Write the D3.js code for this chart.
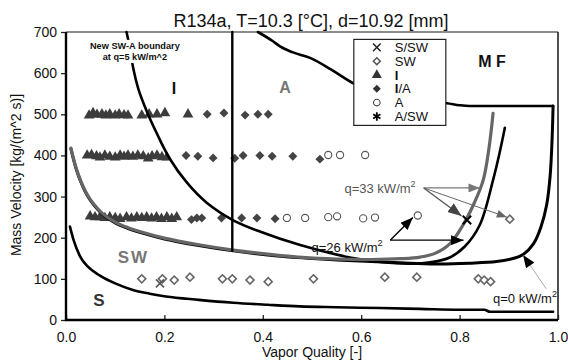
<!DOCTYPE html>
<html><head><meta charset="utf-8">
<script src="https://cdn.jsdelivr.net/npm/d3@7"></script>
<style>
body{margin:0;background:#fff}
svg{display:block}
text{font-family:"Liberation Sans",Arial,Helvetica,sans-serif}
</style>
</head><body>
<svg id="c" width="568" height="362"></svg>
<script>
// ---------- data ----------
const xTicks = [0, 0.2, 0.4, 0.6, 0.8, 1.0];
const yTicks = [0, 100, 200, 300, 400, 500, 600, 700];

// transition curves [vapor quality, mass velocity]
const sCurve = [[0.008,227],[0.015,196],[0.028,156],[0.045,129],[0.069,108],[0.1,89],[0.136,73],[0.17,64],[0.203,57],[0.27,49],[0.34,42],[0.41,37],[0.475,33],[0.55,31],[0.64,29],[0.72,27],[0.8,25],[0.85,25],[0.862,20],[0.99,20]];
const swQ0 = [[0.01,416],[0.02,370],[0.03,336],[0.04,310],[0.05,290],[0.075,256],[0.1,236],[0.125,223],[0.15,213],[0.2,197],[0.27,181],[0.34,168],[0.41,158],[0.48,151],[0.55,146],[0.62,142],[0.7,138],[0.76,136],[0.82,138],[0.875,142],[0.91,150],[0.93,160],[0.95,185],[0.965,225],[0.977,280],[0.984,350],[0.988,440],[0.99,520]];
const swQ33 = [[0.01,418],[0.02,372],[0.03,338],[0.04,312],[0.05,292],[0.075,258],[0.1,238],[0.125,225],[0.15,215],[0.2,199],[0.27,183],[0.34,170],[0.41,160],[0.48,152],[0.55,148],[0.62,147],[0.68,149],[0.72,153],[0.75,162],[0.78,185],[0.807,231],[0.83,285],[0.848,340],[0.86,420],[0.868,502]];
const swaQ5 = [[0.123,700],[0.13,660],[0.136,616],[0.147,562],[0.165,505],[0.184,455],[0.211,392],[0.245,335],[0.286,285],[0.339,243],[0.394,215],[0.476,182],[0.577,152],[0.64,141],[0.7,137],[0.74,140],[0.78,152],[0.81,178],[0.841,231],[0.868,340],[0.882,410],[0.892,467]];
const mfCurve = [[0.39,700],[0.42,678],[0.435,665],[0.46,651],[0.496,637],[0.54,608],[0.583,576],[0.62,558],[0.66,545],[0.7,536],[0.74,530],[0.774,527],[0.8,522],[0.821,520],[0.99,520]];
const iaLine = [[0.338,700],[0.338,168]];

// observed flow patterns
const ptsI = [[0.047,497],[0.055,503],[0.063,499],[0.073,500],[0.081,497],[0.089,500],[0.100,497],[0.108,500],[0.118,498],[0.126,497],[0.154,497],[0.169,500],[0.185,500],[0.201,503],[0.248,500],
  [0.043,400],[0.052,401],[0.062,398],[0.069,395],[0.079,400],[0.089,397],[0.1,395],[0.11,400],[0.118,397],[0.126,400],[0.136,397],[0.146,400],[0.157,398],[0.167,393],[0.175,398],[0.185,400],[0.195,396],[0.205,395],
  [0.049,252],[0.059,250],[0.069,250],[0.079,248],[0.089,250],[0.1,248],[0.11,246],[0.123,250],[0.133,247],[0.144,250],[0.154,248],[0.164,250],[0.174,247],[0.184,250],[0.194,246],[0.205,250],[0.215,246],[0.225,250]];
const ptsIA = [[0.287,500],[0.321,503],[0.364,498],[0.39,500],[0.411,500],
  [0.244,400],[0.268,398],[0.299,394],[0.343,393],[0.36,400],[0.394,400],[0.419,398],[0.461,398],[0.516,391],
  [0.255,244],[0.266,248],[0.276,248],[0.316,248],[0.357,248],[0.388,248],[0.425,246]];
const ptsA = [[0.533,401],[0.557,401],[0.608,401],[0.449,248],[0.486,248],[0.533,250],[0.551,252],[0.604,247],[0.628,249],[0.715,254]];
const ptsSW = [[0.154,100],[0.196,100],[0.22,97],[0.252,104],[0.318,100],[0.338,100],[0.374,97],[0.411,93],[0.503,100],[0.648,104],[0.713,104],[0.838,100],[0.85,97],[0.863,93],[0.902,245]];
const ptsSSW = [[0.191,89]];
const ptsASW = [[0.815,243]];

const legendLabels = ["S/SW","SW","I","I/A","A","A/SW"];

// ---------- layout ----------
const svg = d3.select("#c");
const x = d3.scaleLinear([0,1],[66,558]);
const y = d3.scaleLinear([0,700],[320,32]);
const FONT = '"Liberation Sans",Arial,Helvetica,sans-serif';

// title
svg.append("text").attr("x",311).attr("y",27).attr("text-anchor","middle")
  .attr("font-size",18).attr("fill","#111").text("R134a, T=10.3 [°C], d=10.92 [mm]");

// axes
const gy = svg.append("g").attr("transform","translate(66,0)")
  .call(d3.axisLeft(y).tickValues(yTicks).tickFormat(d3.format("d")).tickSize(5).tickPadding(4));
const gx = svg.append("g").attr("transform","translate(0,320)")
  .call(d3.axisBottom(x).tickValues(xTicks).tickFormat(d3.format(".1f")).tickSizeInner(-5).tickSizeOuter(0).tickPadding(12));
[gx,gy].forEach(g=>{
  g.select(".domain").remove();
  g.selectAll(".tick line").attr("stroke","#222").attr("stroke-width",1.3);
  g.selectAll(".tick text").attr("font-size",14).attr("font-family",FONT).attr("fill","#111");
});

// frame
svg.append("line").attr("x1",x(0)).attr("x2",x(1)).attr("y1",y(700)).attr("y2",y(700)).attr("stroke","#666").attr("stroke-width",1.6);
svg.append("line").attr("x1",x(1)).attr("x2",x(1)).attr("y1",y(700)).attr("y2",y(0)).attr("stroke","#222").attr("stroke-width",1.6);
svg.append("line").attr("x1",x(0)).attr("x2",x(0)).attr("y1",y(700)).attr("y2",y(0)+1).attr("stroke","#000").attr("stroke-width",2.4);
svg.append("line").attr("x1",x(0)-1).attr("x2",x(1)).attr("y1",y(0)).attr("y2",y(0)).attr("stroke","#000").attr("stroke-width",2.4);

// axis titles
svg.append("text").attr("transform","translate(21,175) rotate(-90)").attr("text-anchor","middle")
  .attr("font-size",14).attr("fill","#111").text("Mass Velocity [kg/(m^2 s)]");
svg.append("text").attr("x",312).attr("y",357).attr("text-anchor","middle")
  .attr("font-size",14).attr("fill","#111").text("Vapor Quality [-]");

// ---------- markers ----------
const plot = svg.append("g");
plot.selectAll(".tri").data(ptsI).join("path")
  .attr("d", d3.symbol(d3.symbolTriangle, 50))
  .attr("transform", d=>`translate(${x(d[0])},${y(d[1])})`).attr("fill","#3c3c3c");
plot.selectAll(".dia").data(ptsIA).join("path")
  .attr("d", d3.symbol(d3.symbolSquare, 40)).attr("transform", d=>`translate(${x(d[0])},${y(d[1])}) rotate(45)`).attr("fill","#444");
plot.selectAll(".circ").data(ptsA).join("circle")
  .attr("cx",d=>x(d[0])).attr("cy",d=>y(d[1])).attr("r",3.6).attr("fill","#fff").attr("stroke","#555").attr("stroke-width",1.1);
plot.selectAll(".odia").data(ptsSW).join("path")
  .attr("d", d3.symbol(d3.symbolSquare, 32)).attr("transform", d=>`translate(${x(d[0])},${y(d[1])}) rotate(45)`)
  .attr("fill","#fff").attr("stroke","#666").attr("stroke-width",1.6);

// ---------- curves ----------
const line = d3.line().x(d=>x(d[0])).y(d=>y(d[1])).curve(d3.curveCatmullRom.alpha(0.5));
const lineM = d3.line().x(d=>x(d[0])).y(d=>y(d[1])).curve(d3.curveMonotoneX);
const cg = svg.append("g").attr("fill","none").attr("stroke-linejoin","round").attr("stroke-linecap","round");
cg.append("path").attr("d",lineM(sCurve)).attr("stroke","#000").attr("stroke-width",2.6);
cg.append("path").attr("d",line(swQ0)).attr("stroke","#000").attr("stroke-width",3);
cg.append("path").attr("d",line(swaQ5)).attr("stroke","#000").attr("stroke-width",2.6);
cg.append("path").attr("d",line(swQ33)).attr("stroke","#666").attr("stroke-width",3.2);
cg.append("path").attr("d",lineM(mfCurve)).attr("stroke","#000").attr("stroke-width",2.6);
cg.append("path").attr("d",d3.line().x(d=>x(d[0])).y(d=>y(d[1]))(iaLine)).attr("stroke","#000").attr("stroke-width",2.4);

// stroke symbols drawn on top
svg.selectAll(".ssw").data(ptsSSW).join("path").attr("d", d3.symbol(d3.symbolTimes, 44))
  .attr("transform", d=>`translate(${x(d[0])},${y(d[1])})`).attr("fill","none").attr("stroke","#555").attr("stroke-width",1.6);
svg.selectAll(".asw").data(ptsASW).join("path").attr("d", d3.symbol(d3.symbolTimes, 48))
  .attr("transform", d=>`translate(${x(d[0])},${y(d[1])})`).attr("fill","none").attr("stroke","#000").attr("stroke-width",2);

// ---------- region labels ----------
const lab = (q,g,t,opt)=>svg.append("text").attr("x",x(q)).attr("y",y(g)).attr("text-anchor","middle")
  .attr("font-weight","bold").attr("font-size",opt.size).attr("fill",opt.fill)
  .attr("letter-spacing",opt.ls||0).text(t);
lab(0.2195,549,"I",{size:16,fill:"#111"});
lab(0.445,552,"A",{size:16,fill:"#777"});
lab(0.866,615,"M F",{size:16,fill:"#111"});
lab(0.137,139,"SW",{size:17,fill:"#777",ls:2});
lab(0.067,34,"S",{size:17,fill:"#333"});
// note with white backing (interrupts the boundary curve as in the original)
const noteG = svg.append("g");
const n1 = noteG.append("text").attr("x",x(0.14)).attr("y",y(659)).attr("text-anchor","middle").attr("font-weight","bold")
  .attr("font-size",9.2).attr("fill","#111").text("New SW-A boundary");
const n2 = noteG.append("text").attr("x",x(0.14)).attr("y",y(632)).attr("text-anchor","middle").attr("font-weight","bold")
  .attr("font-size",9.2).attr("fill","#111").text("at q=5 kW/m^2");
const b1 = n1.node().getBBox(), b2 = n2.node().getBBox();
const bx0 = Math.min(b1.x,b2.x)-1, bx1 = Math.max(b1.x+b1.width,b2.x+b2.width)+1;
noteG.insert("rect","text").attr("x",bx0).attr("y",b1.y-1).attr("width",bx1-bx0).attr("height",b2.y+b2.height-b1.y+2).attr("fill","#fff");

// ---------- annotations ----------
const defs = svg.append("defs");
function head(id,color,w,h){
  defs.append("marker").attr("id",id).attr("viewBox","0 0 10 8").attr("refX",10).attr("refY",4)
    .attr("markerWidth",w).attr("markerHeight",h).attr("markerUnits","userSpaceOnUse").attr("orient","auto")
    .append("path").attr("d","M0,0L10,4L0,8Z").attr("fill",color);
}
head("hGray","#777",13,9);
head("hDark","#444",14,11);
head("hGray2","#666",12,8);
head("hBlack","#000",14,10);
const arrow = (a,b,color,w,m)=>svg.append("line").attr("x1",x(a[0])).attr("y1",y(a[1])).attr("x2",x(b[0])).attr("y2",y(b[1]))
  .attr("stroke",color).attr("stroke-width",w).attr("marker-end",`url(#${m})`);
const q33From=[0.727,321];
arrow(q33From,[0.841,321],"#777",1.3,"hGray");
arrow(q33From,[0.804,253],"#555",1.3,"hDark");
arrow(q33From,[0.896,250],"#666",1,"hGray2");
const q26From=[0.659,194];
arrow(q26From,[0.705,249],"#000",1.4,"hBlack");
arrow(q26From,[0.808,194],"#000",1.2,"hBlack");
arrow([0.976,76],[0.929,158],"#aaa",1,"hBlack");

function qLabel(q,g,t,color){
  const t1 = svg.append("text").attr("x",x(q)).attr("y",y(g)).attr("font-size",13).attr("fill",color);
  t1.append("tspan").text(t);
  t1.append("tspan").attr("font-size",9).attr("dy",-6).text("2");
}
qLabel(0.566,309,"q=33 kW/m","#555");
qLabel(0.499,165,"q=26 kW/m","#111");
qLabel(0.868,41,"q=0 kW/m","#111");

// ---------- legend ----------
const lg = svg.append("g").attr("transform",`translate(${x(0.585)},${y(682)})`);
lg.append("rect").attr("width",92).attr("height",86).attr("fill","#fff").attr("stroke","#222").attr("stroke-width",1.2);
const legSym = [
  g=>g.append("path").attr("d",d3.symbol(d3.symbolTimes,40)).attr("fill","none").attr("stroke","#222").attr("stroke-width",1.5),
  g=>g.append("path").attr("d",d3.symbol(d3.symbolSquare,24)).attr("transform","rotate(45)").attr("fill","#fff").attr("stroke","#555").attr("stroke-width",1.5),
  g=>g.append("path").attr("d",d3.symbol(d3.symbolTriangle,44)).attr("fill","#333"),
  g=>g.append("path").attr("d",d3.symbol(d3.symbolSquare,32)).attr("transform","rotate(45)").attr("fill","#333"),
  g=>g.append("circle").attr("r",3.3).attr("fill","#fff").attr("stroke","#444").attr("stroke-width",1.1),
  g=>g.append("path").attr("d",d3.symbol(d3.symbolAsterisk,50)).attr("fill","none").attr("stroke","#000").attr("stroke-width",1.8)
];
legendLabels.forEach((l,i)=>{
  const row = lg.append("g").attr("transform",`translate(0,${8+i*13.8})`);
  legSym[i](row.append("g").attr("transform","translate(23,0)"));
  const t = row.append("text").attr("x",41).attr("y",4.5).attr("font-size",13).attr("fill","#111");
  if (l.startsWith("I")) { t.append("tspan").attr("font-weight","bold").text("I"); t.append("tspan").text(l.slice(1)); }
  else t.text(l);
});
</script>
</body></html>
